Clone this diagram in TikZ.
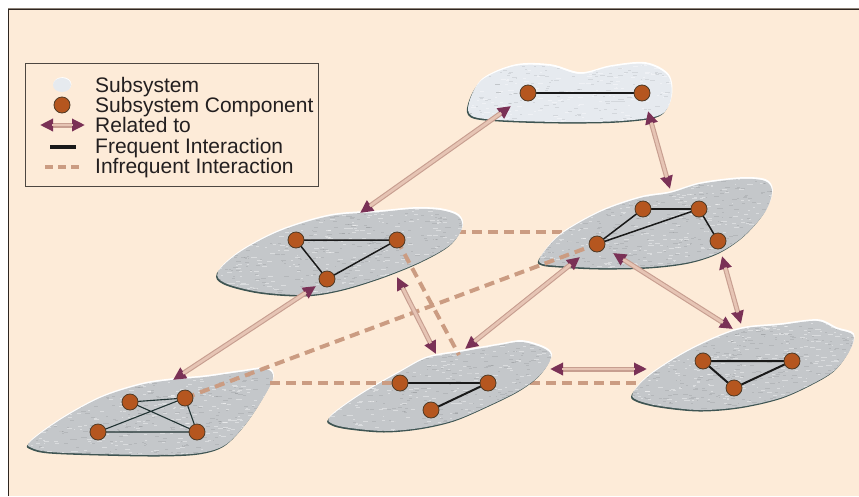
\documentclass[tikz,border=0pt]{standalone}
\usepackage{fontspec}
\setmainfont{Liberation Sans}
\usetikzlibrary{arrows.meta}

\definecolor{bgpeach}{HTML}{FDEBD8}
\definecolor{framedark}{HTML}{2E2620}
\definecolor{framegray}{HTML}{8C8278}
\definecolor{blobgray}{HTML}{C4C7CA}
\definecolor{blobtop}{HTML}{E6EAEF}
\definecolor{blobrim}{HTML}{3E5452}
\definecolor{compfill}{HTML}{B5561F}
\definecolor{compline}{HTML}{4E3A26}
\definecolor{shaftlight}{HTML}{E6C4B4}
\definecolor{shaftdark}{HTML}{C79E90}
\definecolor{headcol}{HTML}{7A3156}
\definecolor{dashcol}{HTML}{CB9C82}
\definecolor{textcol}{HTML}{231F20}
\definecolor{edgeteal}{HTML}{203232}

% short random strokes that give the subsystems their grain
\newcommand\grain[5]{%
  \foreach \k in {1,...,#1}{%
    \pgfmathsetmacro\gx{#2+rnd*(#4-#2)}%
    \pgfmathsetmacro\gy{#3+rnd*(#5-#3)}%
    \pgfmathsetmacro\gw{1.5+4*rnd}%
    \ifodd\k
      \fill[white,opacity=0.38] (\gx,\gy) rectangle ++(\gw,0.9);
    \else
      \fill[black,opacity=0.08] (\gx,\gy) rectangle ++(\gw,0.9);
    \fi}}

% a subsystem: dark rim below, light rim above, grainy fill
\newcommand\subsys[3][blobgray]{%
  \fill[blobrim,xshift=-1.2pt,yshift=-1.5pt] plot[smooth cycle,tension=0.55] coordinates {#2};
  \fill[white,xshift=0.8pt,yshift=1.8pt] plot[smooth cycle,tension=0.55] coordinates {#2};
  \fill[#1] plot[smooth cycle,tension=0.55] coordinates {#2};
  \begin{scope}
    \clip plot[smooth cycle,tension=0.55] coordinates {#2};
    \grain#3
  \end{scope}}

\tikzset{
  comp/.style={circle, fill=compfill, draw=compline, line width=0.8pt,
    minimum size=16pt, inner sep=0pt},
  freq/.style={draw=black!90, line width=1.5pt},
  infreq/.style={draw=dashcol, line width=4pt, dash pattern=on 10pt off 6pt},
  related/.style={line width=5pt, draw=shaftdark,
    {Triangle[length=13pt,width=12pt,color=headcol]}-{Triangle[length=13pt,width=12pt,color=headcol]},
    postaction={draw=shaftlight, line width=2.8pt, -, shorten <=12pt, shorten >=12pt}},
  legtext/.style={anchor=base west, inner sep=0pt, text=textcol,
    font=\fontsize{21}{22}\selectfont}
}

\begin{document}
\begin{tikzpicture}[x=1pt,y=-1pt]
\pgfmathsetseed{4242}
\useasboundingbox (0,0) rectangle (859,496);
\fill[white] (0,0) rectangle (859,496);
\fill[bgpeach] (8,9) rectangle (859,496);
\draw[framegray, line width=1pt] (8,8.3) -- (859,8.3);
\draw[framedark, line width=1.2pt] (8,9.4) -- (859,9.4);
\draw[framedark, line width=1.5pt] (8.6,9) -- (8.6,496);

% component positions
\coordinate (A1) at (528,93);  \coordinate (A2) at (642,93);
\coordinate (B1) at (296,240); \coordinate (B2) at (397,240); \coordinate (B3) at (327,279);
\coordinate (C1) at (643,209); \coordinate (C2) at (699,209);
\coordinate (C3) at (597,244); \coordinate (C4) at (718,241);
\coordinate (D1) at (130,402); \coordinate (D2) at (185,398);
\coordinate (D3) at (98,432);  \coordinate (D4) at (197,432);
\coordinate (E1) at (400,383); \coordinate (E2) at (488,383); \coordinate (E3) at (431,410);
\coordinate (F1) at (703,361); \coordinate (F2) at (792,361); \coordinate (F3) at (734,388);

% loose ends of infrequent interactions
\coordinate (bcW) at (440,232); \coordinate (bcE) at (575,232);
\coordinate (efW) at (530,383); \coordinate (efE) at (650,383);
\coordinate (beS) at (459,355); \coordinate (deW) at (270,383);

% infrequent interactions hidden under the subsystems
\draw[infreq] (bcW) -- (bcE);
\draw[infreq] (efW) -- (efE);

% subsystems
\subsys[blobtop]{(469,103) (482,80) (515,66) (550,66) (580,74) (610,67) (645,64) (668,76) (671,98) (660,115) (620,121) (560,122) (500,120) (472,116)}{{350}{465}{62}{675}{124}}
\subsys{(218,272) (240,252) (280,231) (330,216) (380,212) (413,209) (440,210) (458,216) (462,228) (450,245) (420,262) (380,278) (340,290) (305,295) (260,292) (225,283)}{{650}{215}{205}{465}{298}}
\subsys{(540,258) (560,235) (600,212) (640,198) (670,193) (700,184) (740,179) (765,181) (772,192) (765,212) (745,235) (720,252) (690,262) (650,267) (600,268) (560,266) (543,264)}{{650}{537}{176}{775}{270}}
\subsys{(30,442) (60,420) (100,398) (140,385) (172,380) (205,377) (240,372) (266,369) (273,378) (262,400) (245,425) (225,445) (200,453) (160,455) (100,454) (50,452) (32,448)}{{650}{28}{366}{276}{458}}
\subsys{(330,417) (360,395) (400,372) (427,358) (460,352) (500,345) (522,342) (545,349) (551,358) (540,375) (520,390) (490,405) (455,420) (420,428) (385,431) (350,428) (333,424)}{{550}{328}{340}{553}{433}}
\subsys{(633,393) (650,375) (690,350) (737,330) (780,325) (817,321) (836,329) (853,335) (850,350) (835,370) (810,385) (780,398) (740,407) (700,410) (660,406) (637,400)}{{650}{630}{318}{856}{412}}

% infrequent interactions drawn across the subsystems
\draw[infreq] (B2) -- (beS);
\draw[infreq] (D2) -- (C3);
\draw[infreq] (deW) -- (E1);

% frequent interactions
\draw[freq, line width=2.8pt] (A1) -- (A2);
\draw[freq] (B1) -- (B2) (B1) -- (B3) (B2) -- (B3);
\draw[freq, line width=2.6pt] (C1) -- (C2);
\draw[freq] (C1) -- (C3) (C2) -- (C3) (C2) -- (C4);
\draw[freq, draw=edgeteal, line width=1.1pt] (D1) -- (D2) (D1) -- (D4) (D2) -- (D3) (D3) -- (D4) (D2) -- (D4);
\draw[freq, line width=1.3pt] (E1) -- (E2);
\draw[freq, line width=2pt] (E2) -- (E3);
\draw[freq, line width=2pt] (F1) -- (F2) (F1) -- (F3) (F2) -- (F3);

% components
\foreach \c in {A1,A2,B1,B2,B3,C1,C2,C3,C4,D1,D2,D3,D4,E1,E2,E3,F1,F2,F3}
  \node[comp] (n\c) at (\c) {};

% relations between subsystems
\coordinate (ra1) at (511,106); \coordinate (rb1) at (360,213);
\coordinate (ra2) at (648,111); \coordinate (rc1) at (670,189);
\coordinate (rb2) at (316,286); \coordinate (rd1) at (173,380);
\coordinate (rb3) at (397,277); \coordinate (re1) at (436,354);
\coordinate (rc2) at (580,257); \coordinate (re2) at (465,349);
\coordinate (rc3) at (613,253); \coordinate (rf1) at (733,329);
\coordinate (rc4) at (722,256); \coordinate (rf2) at (741,324);
\coordinate (re3) at (550,369); \coordinate (rf3) at (647,369);
\draw[related] (ra1) -- (rb1);
\draw[related] (ra2) -- (rc1);
\draw[related] (rb2) -- (rd1);
\draw[related] (rb3) -- (re1);
\draw[related] (rc2) -- (re2);
\draw[related] (rc3) -- (rf1);
\draw[related] (rc4) -- (rf2);
\draw[related] (re3) -- (rf3);

% legend
\draw[draw=framedark!85, line width=1pt] (25,63) rectangle (318,186);
\fill[white,xshift=0.4pt,yshift=0.8pt] (62,85) ellipse [x radius=9, y radius=7];
\fill[blobtop] (62,85) ellipse [x radius=9, y radius=7];
\node[comp] (lgcomp) at (62,105) {};
\coordinate (lgaW) at (40,125); \coordinate (lgaE) at (85,125);
\draw[related] (lgaW) -- (lgaE);
\coordinate (lgfW) at (50,147); \coordinate (lgfE) at (76,147);
\draw[freq, line width=3.2pt] (lgfW) -- (lgfE);
\coordinate (lgiW) at (45,167); \coordinate (lgiE) at (79,167);
\draw[infreq, line width=3.5pt, dash pattern=on 8pt off 5pt] (lgiW) -- (lgiE);
\node[legtext] (l1) at (95,92.5) {Subsystem};
\node[legtext] (l2) at (95,112.7) {Subsystem Component};
\node[legtext] (l3) at (95,132.8) {Related to};
\node[legtext] (l4) at (95,153) {Frequent Interaction};
\node[legtext] (l5) at (95,173) {Infrequent Interaction};
\end{tikzpicture}
\end{document}
